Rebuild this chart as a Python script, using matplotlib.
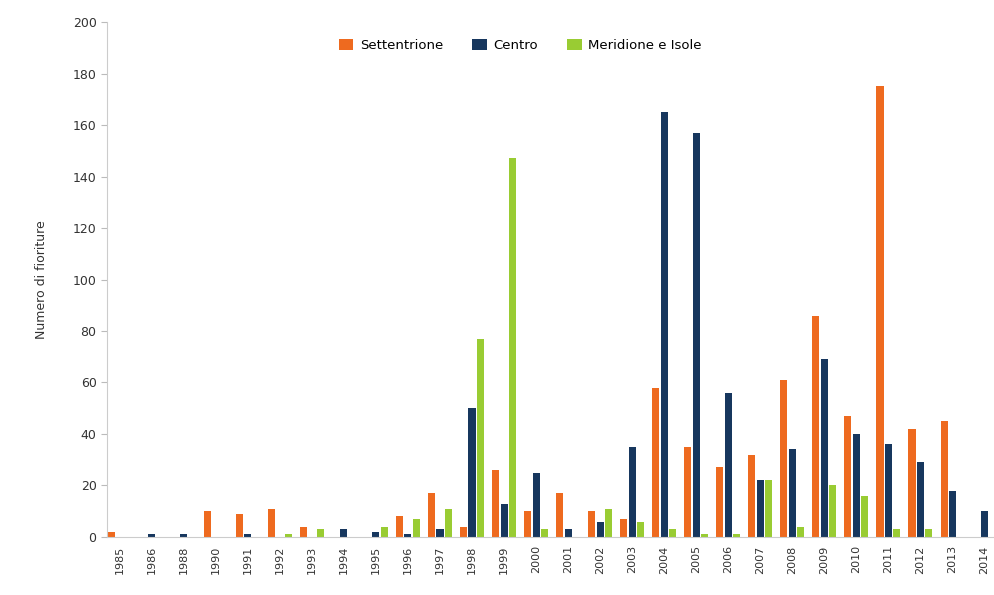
import numpy as np
import matplotlib.pyplot as plt

anni = ['1985', '1986', '1988', '1990', '1991', '1992', '1993', '1994', '1995', '1996',
        '1997', '1998', '1999', '2000', '2001', '2002', '2003', '2004', '2005', '2006',
        '2007', '2008', '2009', '2010', '2011', '2012', '2013', '2014']
settentrione = [2, 0, 0, 10, 9, 11, 4, 0, 0, 8, 17, 4, 26, 10, 17, 10, 7, 58, 35, 27,
                32, 61, 86, 47, 175, 42, 45, 0]
centro = [0, 1, 1, 0, 1, 0, 0, 3, 2, 1, 3, 50, 13, 25, 3, 6, 35, 165, 157, 56,
          22, 34, 69, 40, 36, 29, 18, 10]
meridione = [0, 0, 0, 0, 0, 1, 3, 0, 4, 7, 11, 77, 147, 3, 0, 11, 6, 3, 1, 1,
             22, 4, 20, 16, 3, 3, 0, 0]

x = np.arange(len(anni))
passo = 0.26
w = 0.22

fig = plt.figure(figsize=(9.94, 5.95), dpi=100)
ax = fig.add_axes([0.1076, 0.0975, 0.8924, 0.8655])

ax.bar(x - passo, settentrione, w, color='#EE6A1F', label='Settentrione')
ax.bar(x, centro, w, color='#17375E', label='Centro')
ax.bar(x + passo, meridione, w, color='#99CC33', label='Meridione e Isole')

ax.set_xlim(-0.4, 27.3)
ax.set_ylim(0, 200)
ax.set_yticks(range(0, 201, 20))
ax.set_xticks(x)
ax.set_xticklabels(anni, rotation=90, fontsize=8, color='#333333')
ax.tick_params(axis='y', labelsize=9, colors='#333333', length=4, color='#bbbbbb')
ax.tick_params(axis='x', length=0, pad=6)
ax.set_ylabel('Numero di fioriture', fontsize=9, color='#333333', labelpad=18)

for s in ['top', 'right']:
    ax.spines[s].set_visible(False)
ax.spines['left'].set_color('#cccccc')
ax.spines['bottom'].set_color('#cccccc')

ax.legend(loc='upper center', bbox_to_anchor=(0.466, 0.99), ncol=3, frameon=False,
          fontsize=9.5, handlelength=1.1, handleheight=0.8, handletextpad=0.5,
          columnspacing=2.2)

fig.savefig('out.png', dpi=100)
